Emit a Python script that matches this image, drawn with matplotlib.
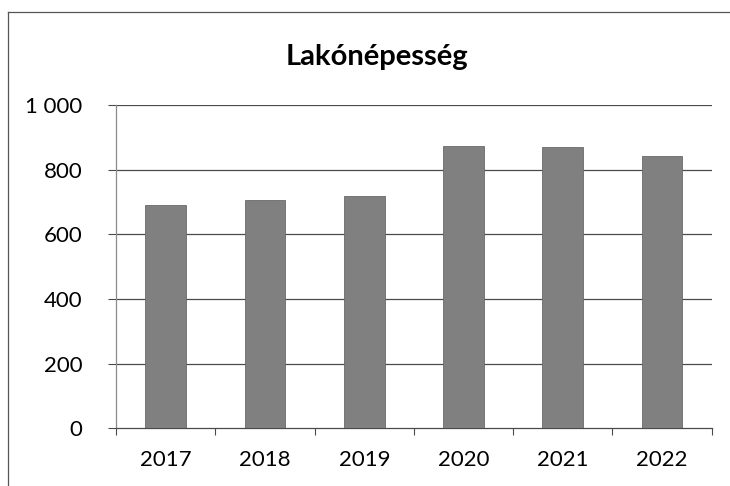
import matplotlib.pyplot as plt
from matplotlib.lines import Line2D

years = ["2017", "2018", "2019", "2020", "2021", "2022"]
population = [690, 706, 718, 873, 870, 842]
y_ticks = [0, 200, 400, 600, 800, 1000]
y_labels = ["0", "200", "400", "600", "800", "1 000"]

plt.rcParams["font.family"] = ["Lato", "DejaVu Sans"]

fig = plt.figure(figsize=(7.3, 4.86), dpi=100)
ax = fig.add_axes([0.159, 0.119, 0.816, 0.665])

x = list(range(len(years)))
ax.bar(x, population, width=0.41, color="#808080", edgecolor="#6a6a6a",
       linewidth=0.6, zorder=3)

ax.set_xlim(-0.5, len(years) - 0.5)
ax.set_ylim(0, 1000)

# horizontal gridlines
for v in y_ticks[1:]:
    ax.axhline(v, color="#4a4a4a", linewidth=0.9, zorder=1)

ax.set_yticks(y_ticks)
ax.set_yticklabels(y_labels, fontsize=16)
ax.tick_params(axis="y", length=6, width=0.8, color="#4a4a4a",
               pad=18, direction="out")

ax.set_xticks(x)
ax.set_xticklabels(years, fontsize=16)
ax.set_xticks([i + 0.5 for i in x[:-1]] + [-0.5, len(years) - 0.5],
              minor=True)
ax.tick_params(axis="x", which="major", length=0, pad=16)
ax.tick_params(axis="x", which="minor", length=5, width=0.8,
               color="#4a4a4a", direction="out")

for side in ["top", "right"]:
    ax.spines[side].set_visible(False)
ax.spines["left"].set_color("#8a8a8a")
ax.spines["left"].set_linewidth(0.9)
ax.spines["bottom"].set_color("#4a4a4a")
ax.spines["bottom"].set_linewidth(0.9)

fig.text(0.516, 0.883, "Lakónépesség", ha="center", va="center",
         fontsize=21, fontweight="bold")

# outer chart frame (left and top edges visible in the scan)
fig.add_artist(Line2D([0.011, 0.011], [0.0, 0.975], color="#555555",
                      linewidth=0.9, transform=fig.transFigure))
fig.add_artist(Line2D([0.011, 1.0], [0.975, 0.975], color="#555555",
                      linewidth=0.9, transform=fig.transFigure))

fig.savefig("out.png", dpi=100, facecolor="white")
